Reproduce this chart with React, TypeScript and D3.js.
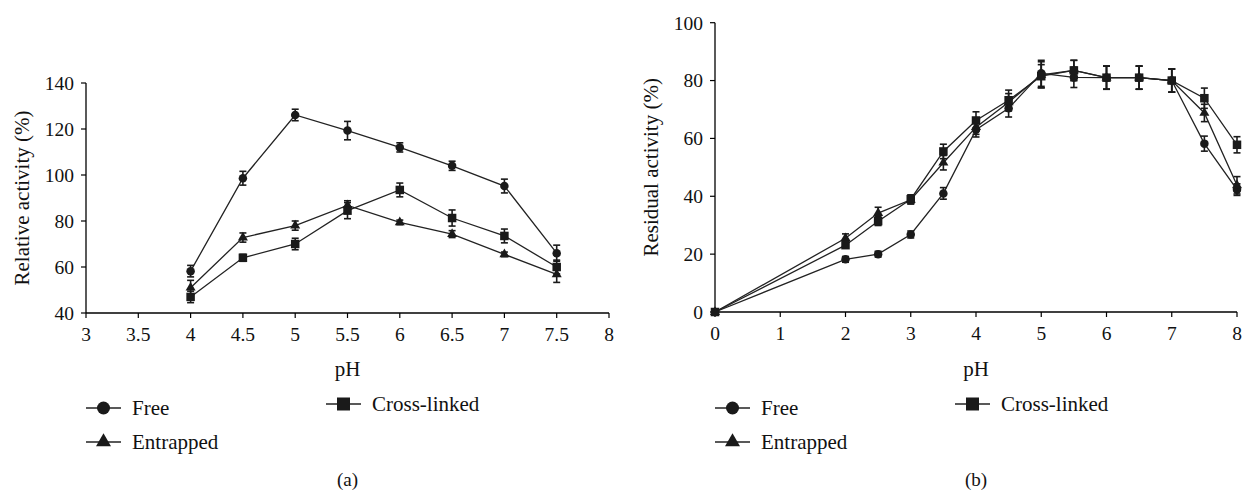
import React from "react";
import * as d3 from "d3";

// panel (a): relative activity vs pH
const phA = [4, 4.5, 5, 5.5, 6, 6.5, 7, 7.5];
const freeA = [58.2, 98.6, 126.1, 119.3, 112, 104, 95.2, 66];
const freeErrA = [2.5, 3, 2.5, 4, 2, 2, 3, 3.5];
const entrA = [51, 72.8, 78, 86.8, 79.4, 74.3, 65.5, 56.8];
const entrErrA = [3.2, 2, 2, 2, 1, 1.5, 1, 3.5];
const crossA = [47, 64, 70, 84.5, 93.5, 81.3, 73.5, 60];
const crossErrA = [2.5, 1.5, 2.5, 3.5, 3, 3.5, 3, 3];
const xTicksA = [3, 3.5, 4, 4.5, 5, 5.5, 6, 6.5, 7, 7.5, 8];
const yTicksA = [40, 60, 80, 100, 120, 140];

// panel (b): residual activity vs pH
const phB = [0, 2, 2.5, 3, 3.5, 4, 4.5, 5, 5.5, 6, 6.5, 7, 7.5, 8];
const freeB = [0, 18.2, 20, 26.8, 41, 63, 70.4, 82.5, 81.1, 81, 81, 80, 58.2, 42.3];
const freeErrB = [0, 1, 1, 1.2, 2, 2.5, 3, 4.5, 3.5, 4, 4, 4, 2.6, 2];
const entrB = [0, 25.5, 34.2, 38.8, 51.6, 63.9, 72.5, 82, 83.5, 81, 81, 80, 68.8, 43.8];
const entrErrB = [0, 1.5, 2, 1.5, 2.5, 2.5, 3, 4.5, 3.5, 4, 4, 4, 3, 3];
const crossB = [0, 23.1, 31.4, 39, 55.5, 66.2, 73.2, 81.5, 83.5, 81, 81, 80, 73.9, 57.8];
const crossErrB = [0, 1, 1.5, 1.5, 2.5, 3, 3.5, 4, 3.5, 4, 4, 4, 3.5, 2.8];
const xTicksB = [0, 1, 2, 3, 4, 5, 6, 7, 8];
const yTicksB = [0, 20, 40, 60, 80, 100];

const FONT = "Liberation Serif, Times New Roman, DejaVu Serif, serif";
const FS_TICK = 19.5;
const FS_TEXT = 21;
const INK = "#1a1a1a";

type Shape = "circle" | "square" | "triangle";

interface Series {
  name: string;
  shape: Shape;
  values: number[];
  errors: number[];
}

const Marker: React.FC<{ shape: Shape; x: number; y: number; s: number }> = ({ shape, x, y, s }) => {
  if (shape === "circle") return <circle cx={x} cy={y} r={s / 2} fill={INK} />;
  if (shape === "square") return <rect x={x - s / 2} y={y - s / 2} width={s} height={s} fill={INK} />;
  const h = (s * Math.sqrt(3)) / 2;
  return (
    <path
      d={`M${x},${y - (2 * h) / 3}L${x + s / 2},${y + h / 3}L${x - s / 2},${y + h / 3}Z`}
      fill={INK}
    />
  );
};

interface PanelProps {
  left: number;
  right: number;
  top: number;
  bottom: number;
  xDomain: [number, number];
  yDomain: [number, number];
  xTicks: number[];
  yTicks: number[];
  xs: number[];
  series: Series[];
  yTitle: string;
  caption: string;
  legendX: number;
  crossX: number;
}

const Panel: React.FC<PanelProps> = (p) => {
  const x = d3.scaleLinear().domain(p.xDomain).range([p.left, p.right]);
  const y = d3.scaleLinear().domain(p.yDomain).range([p.bottom, p.top]);
  const line = d3
    .line<number>()
    .x((_d, i) => x(p.xs[i]))
    .y((d) => y(d));
  const midX = (p.left + p.right) / 2;
  const midY = (p.top + p.bottom) / 2;
  const cap = 3.5;

  const legendRows: { s: Series; lx: number; ly: number }[] = [
    { s: p.series[0], lx: p.legendX, ly: 408 },
    { s: p.series[1], lx: p.legendX, ly: 442 },
    { s: p.series[2], lx: p.crossX, ly: 404 },
  ];

  return (
    <g style={{ fontFamily: FONT }} fill="#111">
      {/* axes */}
      <line x1={p.left} x2={p.left} y1={p.top} y2={p.bottom} stroke="#000" strokeWidth={1.3} />
      <line x1={p.left} x2={p.right} y1={p.bottom} y2={p.bottom} stroke="#000" strokeWidth={1.3} />
      {p.yTicks.map((t) => (
        <g key={"y" + t}>
          <line x1={p.left - 5} x2={p.left} y1={y(t)} y2={y(t)} stroke="#000" strokeWidth={1.2} />
          <text x={p.left - 12} y={y(t)} dy="0.35em" textAnchor="end" fontSize={FS_TICK}>
            {t}
          </text>
        </g>
      ))}
      {p.xTicks.map((t) => (
        <g key={"x" + t}>
          <line x1={x(t)} x2={x(t)} y1={p.bottom} y2={p.bottom + 5} stroke="#000" strokeWidth={1.2} />
          <text x={x(t)} y={p.bottom + 21} dy="0.35em" textAnchor="middle" fontSize={FS_TICK}>
            {t}
          </text>
        </g>
      ))}
      <text x={midX} y={369} dy="0.35em" textAnchor="middle" fontSize={FS_TEXT}>
        pH
      </text>
      <text
        transform={`translate(${p.left - 64},${midY}) rotate(-90)`}
        dy="0.35em"
        textAnchor="middle"
        fontSize={FS_TEXT}
      >
        {p.yTitle}
      </text>
      <text x={midX} y={479} dy="0.35em" textAnchor="middle" fontSize={19}>
        {p.caption}
      </text>

      {/* series */}
      {p.series.map((s) => (
        <g key={s.name}>
          <path d={line(s.values) || ""} fill="none" stroke="#222" strokeWidth={1.3} />
          {s.values.map((v, i) =>
            s.errors[i] > 0 ? (
              <g key={i} stroke={INK} strokeWidth={1.6}>
                <line x1={x(p.xs[i])} x2={x(p.xs[i])} y1={y(v - s.errors[i])} y2={y(v + s.errors[i])} />
                <line x1={x(p.xs[i]) - cap} x2={x(p.xs[i]) + cap} y1={y(v - s.errors[i])} y2={y(v - s.errors[i])} />
                <line x1={x(p.xs[i]) - cap} x2={x(p.xs[i]) + cap} y1={y(v + s.errors[i])} y2={y(v + s.errors[i])} />
              </g>
            ) : null
          )}
          {s.values.map((v, i) => (
            <Marker key={"m" + i} shape={s.shape} x={x(p.xs[i])} y={y(v)} s={s.shape === "triangle" ? 10 : 8.5} />
          ))}
        </g>
      ))}

      {/* legend */}
      {legendRows.map(({ s, lx, ly }) => (
        <g key={"lg" + s.name}>
          <line x1={lx} x2={lx + 35} y1={ly} y2={ly} stroke="#222" strokeWidth={1.5} />
          <Marker shape={s.shape} x={lx + 17.5} y={ly} s={s.shape === "triangle" ? 15 : 13} />
          <text x={lx + 46} y={ly} dy="0.35em" fontSize={FS_TEXT}>
            {s.name}
          </text>
        </g>
      ))}
    </g>
  );
};

const App: React.FC = () => {
  const seriesA: Series[] = [
    { name: "Free", shape: "circle", values: freeA, errors: freeErrA },
    { name: "Entrapped", shape: "triangle", values: entrA, errors: entrErrA },
    { name: "Cross-linked", shape: "square", values: crossA, errors: crossErrA },
  ];
  const seriesB: Series[] = [
    { name: "Free", shape: "circle", values: freeB, errors: freeErrB },
    { name: "Entrapped", shape: "triangle", values: entrB, errors: entrErrB },
    { name: "Cross-linked", shape: "square", values: crossB, errors: crossErrB },
  ];

  return (
    <svg
      width={1242}
      height={490}
      style={{ position: "absolute", left: 0, top: 0, background: "#fff" }}
    >
      <rect width={1242} height={490} fill="#fff" />
      <Panel
        left={86}
        right={609}
        top={83}
        bottom={313}
        xDomain={[3, 8]}
        yDomain={[40, 140]}
        xTicks={xTicksA}
        yTicks={yTicksA}
        xs={phA}
        series={seriesA}
        yTitle="Relative activity (%)"
        caption="(a)"
        legendX={86}
        crossX={326}
      />
      <Panel
        left={715}
        right={1237}
        top={22.7}
        bottom={312}
        xDomain={[0, 8]}
        yDomain={[0, 100]}
        xTicks={xTicksB}
        yTicks={yTicksB}
        xs={phB}
        series={seriesB}
        yTitle="Residual activity (%)"
        caption="(b)"
        legendX={715}
        crossX={955}
      />
    </svg>
  );
};

export default App;
